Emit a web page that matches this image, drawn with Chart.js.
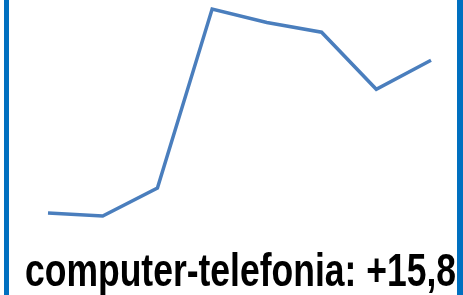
<!DOCTYPE html>
<html>
<head>
<meta charset="utf-8">
<script src="https://cdn.jsdelivr.net/npm/chart.js@4"></script>
<style>
  html, body { margin: 0; padding: 0; background: #fff; }
  #wrap { width: 463px; height: 295px; }
</style>
</head>
<body>
<div id="wrap"><canvas id="c" width="463" height="295"></canvas></div>
<script>
// data (index, first point = 100)
const periods = ['1', '2', '3', '4', '5', '6', '7', '8'];
const values = [100, 99.7, 102.6, 121.1, 119.7, 118.7, 112.8, 115.8];
const titleText = 'computer-telefonia: +15,8';

// blue frame on left/right + condensed bold caption
const framePlugin = {
  id: 'frame',
  beforeDraw(chart) {
    const ctx = chart.ctx;
    ctx.save();
    ctx.fillStyle = '#fff';
    ctx.fillRect(0, 0, chart.width, chart.height);
    ctx.fillStyle = '#0070C0';
    ctx.fillRect(4, 0, 5, chart.height);
    ctx.fillRect(457, 0, 6, chart.height);
    ctx.restore();
  },
  afterDraw(chart) {
    const ctx = chart.ctx;
    ctx.save();
    ctx.font = 'bold 46px "Liberation Sans", Arial, sans-serif';
    ctx.fillStyle = '#000';
    ctx.textBaseline = 'alphabetic';
    ctx.textAlign = 'center';
    const w = ctx.measureText(titleText).width;
    const sx = 431 / w;
    ctx.translate(240.5, 286);
    ctx.scale(sx, 1);
    ctx.fillText(titleText, 0, 0);
    ctx.restore();
  }
};

new Chart(document.getElementById('c'), {
  type: 'line',
  data: {
    labels: periods,
    datasets: [{
      data: values,
      borderColor: '#4A7EBD',
      borderWidth: 3.5,
      pointRadius: 0,
      tension: 0,
      fill: false,
      clip: false
    }]
  },
  options: {
    animation: false,
    responsive: false,
    devicePixelRatio: 1,
    layout: { padding: { left: 48, right: 32, top: 9, bottom: 79 } },
    plugins: {
      legend: { display: false },
      tooltip: { enabled: false },
      title: { display: false }
    },
    scales: {
      x: { display: false, offset: false },
      y: { display: false, min: 99.7, max: 121.1 }
    }
  },
  plugins: [framePlugin]
});
</script>
</body>
</html>
